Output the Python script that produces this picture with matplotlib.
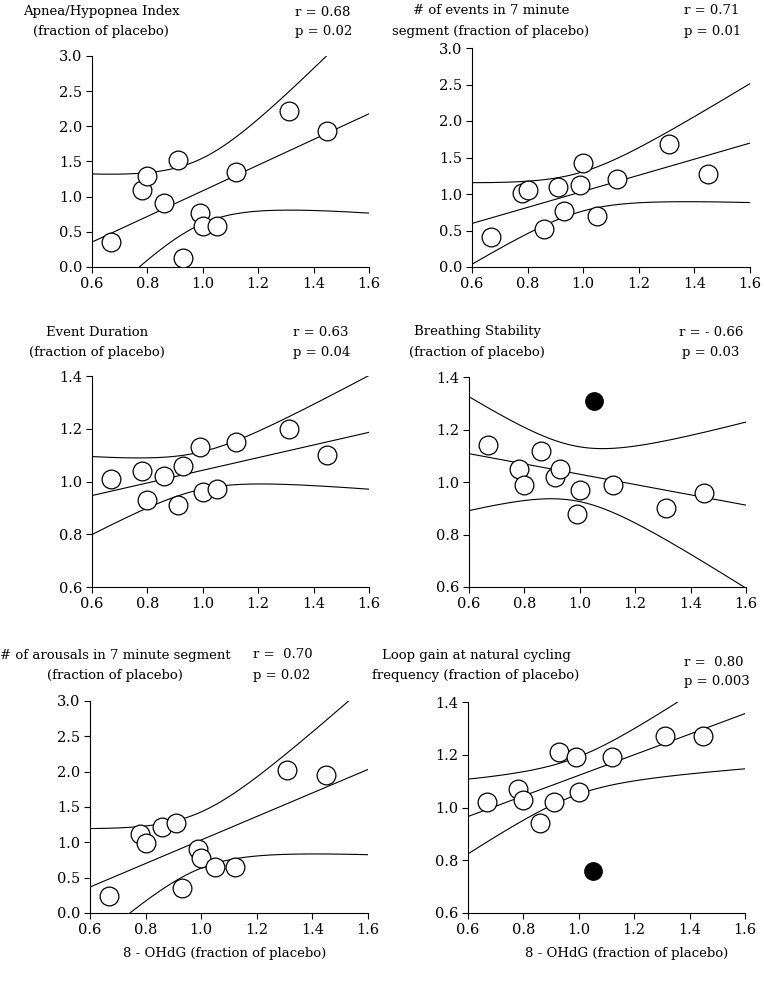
import numpy as np
import matplotlib
matplotlib.use("Agg")
import matplotlib.pyplot as plt

plt.rcParams['font.family'] = ['DejaVu Serif']

# x values (8-OHdG, fraction of placebo), same subjects in every panel
ohdg = [0.67, 0.78, 0.80, 0.86, 0.91, 0.93, 0.99, 1.00, 1.05, 1.12, 1.31, 1.45]

ahi = [0.35, 1.10, 1.30, 0.91, 1.52, 0.13, 0.77, 0.59, 0.59, 1.35, 2.22, 1.94]
events = [0.41, 1.02, 1.06, 0.52, 1.10, 0.77, 1.13, 1.43, 0.70, 1.20, 1.69, 1.27]
duration = [1.01, 1.04, 0.93, 1.02, 0.91, 1.06, 1.13, 0.96, 0.97, 1.15, 1.20, 1.10]
stability = [1.14, 1.05, 0.99, 1.12, 1.02, 1.05, 0.88, 0.97, 1.31, 0.99, 0.90, 0.96]
arousals = [0.24, 1.12, 0.99, 1.22, 1.28, 0.36, 0.91, 0.78, 0.65, 0.65, 2.03, 1.95]
loopgain = [1.02, 1.07, 1.03, 0.94, 1.02, 1.21, 1.19, 1.06, 0.76, 1.19, 1.27, 1.27]

# filled (outlier) point, index into ohdg
outlier = 8

# two-sided 99% t critical values by degrees of freedom
t99 = {10: 3.169, 9: 3.250}

W, H = 764, 985
fig = plt.figure(figsize=(W / 100, H / 100), dpi=100)


def make_ax(left, right, top, bottom):
    return fig.add_axes([left / W, 1 - bottom / H, (right - left) / W, (bottom - top) / H])


def panel(ax, x, y, ylim, yticks, filled=None, fit_filled=True):
    x = np.array(x)
    y = np.array(y)
    open_pts = np.ones(len(x), dtype=bool)
    if filled is not None:
        open_pts[filled] = False
    use = open_pts.copy()
    if filled is not None and fit_filled:
        use[filled] = True
    xf, yf = x[use], y[use]
    n = len(xf)
    b, a = np.polyfit(xf, yf, 1)
    resid = yf - (a + b * xf)
    s = np.sqrt(np.sum(resid ** 2) / (n - 2))
    sxx = np.sum((xf - xf.mean()) ** 2)
    xs = np.linspace(0.6, 1.6, 200)
    fit = a + b * xs
    half = t99[n - 2] * s * np.sqrt(1 / n + (xs - xf.mean()) ** 2 / sxx)
    for line in (fit, fit + half, fit - half):
        ax.plot(xs, line, color='black', lw=0.8)
    ax.plot(x[open_pts], y[open_pts], 'o', ms=13.5, mfc='white', mec='black', mew=0.9, zorder=3)
    if filled is not None:
        ax.plot(x[filled], y[filled], 'o', ms=12.5, color='black', zorder=3)

    ax.set_xlim(0.6, 1.6)
    ax.set_ylim(*ylim)
    ax.set_xticks([0.6, 0.8, 1.0, 1.2, 1.4, 1.6])
    ax.set_yticks(yticks)
    ax.xaxis.set_major_formatter(matplotlib.ticker.FormatStrFormatter('%.1f'))
    ax.yaxis.set_major_formatter(matplotlib.ticker.FormatStrFormatter('%.1f'))
    ax.spines['top'].set_visible(False)
    ax.spines['right'].set_visible(False)
    for sp in ('left', 'bottom'):
        ax.spines[sp].set_linewidth(0.8)
    ax.tick_params(direction='out', length=4, width=0.8, labelsize=10.5, pad=3)
    ax.patch.set_alpha(0)


big = [0, 0.5, 1.0, 1.5, 2.0, 2.5, 3.0]
small = [0.6, 0.8, 1.0, 1.2, 1.4]

ax1 = make_ax(92, 369, 56, 267)
panel(ax1, ohdg, ahi, (0, 3.0), big)
ax2 = make_ax(472, 750, 48, 267)
panel(ax2, ohdg, events, (0, 3.0), big)
ax3 = make_ax(92, 369, 376, 587)
panel(ax3, ohdg, duration, (0.6, 1.4), small)
ax4 = make_ax(469, 746, 377, 587)
panel(ax4, ohdg, stability, (0.6, 1.4), small, filled=outlier, fit_filled=True)
ax5 = make_ax(90, 368, 701, 913)
panel(ax5, ohdg, arousals, (0, 3.0), big)
ax6 = make_ax(468, 745, 702, 913)
panel(ax6, ohdg, loopgain, (0.6, 1.4), small, filled=outlier, fit_filled=False)


def txt(x, y, s, ha='center', size=9.5):
    fig.text(x / W, 1 - y / H, s, ha=ha, va='center', fontsize=size)


# titles and stats
txt(101, 12, "Apnea/Hypopnea Index")
txt(101, 32, "(fraction of placebo)")
txt(295, 12, "r = 0.68", ha='left')
txt(295, 32, "p = 0.02", ha='left')

txt(491, 10, "# of events in 7 minute")
txt(491, 31, "segment (fraction of placebo)")
txt(684, 10, "r = 0.71", ha='left')
txt(684, 31, "p = 0.01", ha='left')

txt(97, 332, "Event Duration")
txt(97, 353, "(fraction of placebo)")
txt(293, 332, "r = 0.63", ha='left')
txt(293, 353, "p = 0.04", ha='left')

txt(477, 332, "Breathing Stability")
txt(477, 353, "(fraction of placebo)")
txt(711, 332, "r = - 0.66")
txt(711, 353, "p = 0.03")

txt(115, 655, "# of arousals in 7 minute segment")
txt(115, 675, "(fraction of placebo)")
txt(253, 655, "r =  0.70", ha='left')
txt(253, 675, "p = 0.02", ha='left')

txt(476, 655, "Loop gain at natural cycling")
txt(476, 675, "frequency (fraction of placebo)")
txt(684, 662, "r =  0.80", ha='left')
txt(684, 682, "p = 0.003", ha='left')

txt(225, 953, "8 - OHdG (fraction of placebo)")
txt(627, 953, "8 - OHdG (fraction of placebo)")

fig.savefig("out.png", dpi=100)
